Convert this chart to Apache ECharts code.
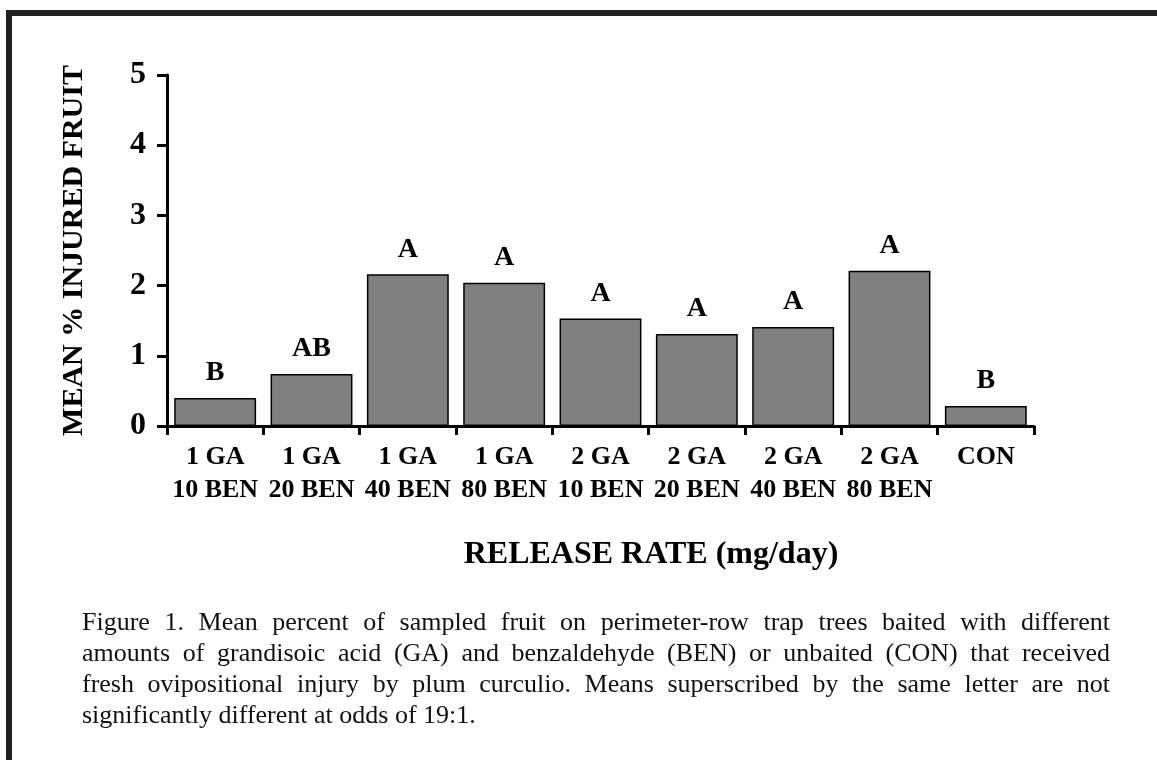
<!DOCTYPE html>
<html>
<head>
<meta charset="utf-8">
<script src="https://cdn.jsdelivr.net/npm/echarts@6/dist/echarts.min.js"></script>
<style>
  html, body { margin: 0; padding: 0; background: #fff; }
  #frame { position: absolute; left: 6px; top: 10px; width: 1200px; height: 800px;
           border-left: 6px solid #231f20; border-top: 6px solid #231f20; }
  #chart { position: absolute; left: 0; top: 0; width: 1157px; height: 760px; }
  #caption { position: absolute; left: 82px; top: 606px; width: 1028px;
             font-family: "Liberation Serif", "Times New Roman", serif; font-size: 26px;
             line-height: 31px; color: #111; }
  #caption div { text-align: justify; text-align-last: justify; white-space: nowrap; }
  #caption div.last { text-align: left; text-align-last: left; }
</style>
</head>
<body>
<div id="frame"></div>
<div id="chart"></div>
<div id="caption">
  <div>Figure 1. Mean percent of sampled fruit on perimeter-row trap trees baited with different</div>
  <div>amounts of grandisoic acid (GA) and benzaldehyde (BEN) or unbaited (CON) that received</div>
  <div>fresh ovipositional injury by plum curculio. Means superscribed by the same letter are not</div>
  <div class="last">significantly different at odds of 19:1.</div>
</div>
<script>
const categories = ['1 GA\n10 BEN', '1 GA\n20 BEN', '1 GA\n40 BEN', '1 GA\n80 BEN',
                    '2 GA\n10 BEN', '2 GA\n20 BEN', '2 GA\n40 BEN', '2 GA\n80 BEN', 'CON'];
const values = [0.40, 0.74, 2.16, 2.04, 1.53, 1.31, 1.41, 2.21, 0.285];
const letters = ['B', 'AB', 'A', 'A', 'A', 'A', 'A', 'A', 'B'];
const yMin = 0, yMax = 5, yStep = 1;
const yTitle = 'MEAN % INJURED FRUIT';
const xTitle = 'RELEASE RATE (mg/day)';

const serif = '"Liberation Serif", "Times New Roman", serif';
const chart = echarts.init(document.getElementById('chart'), null, { renderer: 'canvas' });
chart.setOption({
  animation: false,
  backgroundColor: 'transparent',
  grid: { left: 167, right: 123, top: 75, bottom: 334, containLabel: false },
  xAxis: {
    type: 'category',
    data: categories,
    axisLine: { show: true, lineStyle: { color: '#000', width: 3 } },
    axisTick: { show: true, length: 9, lineStyle: { color: '#000', width: 3 } },
    axisLabel: { color: '#000', fontFamily: serif, fontWeight: 'bold', fontSize: 26,
                 lineHeight: 33, margin: 15, interval: 0 },
    splitLine: { show: false }
  },
  yAxis: {
    type: 'value',
    min: yMin, max: yMax, interval: yStep,
    name: yTitle,
    nameLocation: 'middle',
    nameRotate: 90,
    nameGap: 78,
    nameTextStyle: { color: '#000', fontFamily: serif, fontWeight: 'bold', fontSize: 30 },
    axisLine: { show: true, lineStyle: { color: '#000', width: 3 } },
    axisTick: { show: true, length: 10, lineStyle: { color: '#000', width: 3 } },
    axisLabel: { color: '#000', fontFamily: serif, fontWeight: 'bold', fontSize: 32, margin: 21 },
    splitLine: { show: false }
  },
  series: [{
    type: 'bar',
    data: values,
    barCategoryGap: '15%',
    itemStyle: { color: '#808080', borderColor: '#000', borderWidth: 1.5 },
    label: {
      show: true, position: 'top', distance: 11,
      formatter: p => letters[p.dataIndex],
      color: '#000', fontFamily: serif, fontWeight: 'bold', fontSize: 28
    }
  }],
  graphic: [{
    type: 'text',
    x: 651, y: 555,
    style: { text: xTitle, fill: '#000', font: 'bold 32px ' + serif,
             textAlign: 'center', textVerticalAlign: 'middle' }
  }]
});
</script>
</body>
</html>
